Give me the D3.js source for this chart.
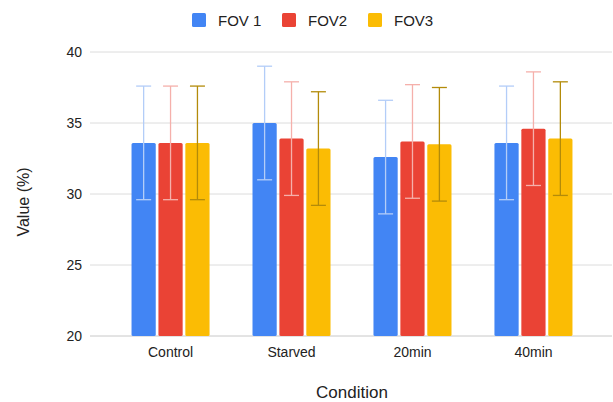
<!DOCTYPE html>
<html><head><meta charset="utf-8">
<script src="https://cdn.jsdelivr.net/npm/d3@7"></script>
<style>body{margin:0;background:#fff}svg{display:block;font-family:"Liberation Sans",Arial,sans-serif}</style>
</head><body><svg id="c" width="613" height="402"></svg>
<script>
const categories = ["Control","Starved","20min","40min"];
const seriesNames = ["FOV 1","FOV2","FOV3"];
const fov1 = [33.6, 35.0, 32.6, 33.6];
const fov2 = [33.6, 33.9, 33.7, 34.6];
const fov3 = [33.6, 33.2, 33.5, 33.9];
const err1 = [4, 4, 4, 4];
const err2 = [4, 4, 4, 4];
const err3 = [4, 4, 4, 4];
const yTicks = [20, 25, 30, 35, 40];

const colors = ["#4285F4","#EA4335","#FBBC04"];
const errColors = ["#b3cdf8","#f5b0ab","#b38b0a"];
const series = [fov1, fov2, fov3];
const errs = [err1, err2, err3];

const svg = d3.select("#c");
const y = d3.scaleLinear().domain([20, 40]).range([336, 52]);
const x0 = d3.scaleBand().domain(categories).range([110, 594]).paddingInner(0.355).paddingOuter(0.178);
const x1 = d3.scaleBand().domain(seriesNames).range([0, x0.bandwidth()]).paddingInner(0.1);

// gridlines
svg.append("g").selectAll("line").data(yTicks).join("line")
  .attr("x1", 90).attr("x2", 612)
  .attr("y1", d => y(d)).attr("y2", d => y(d))
  .attr("stroke", d => d === 20 ? "#c8c8c8" : "#dcdcdc").attr("stroke-width", 1);

// y axis labels
const yAxis = d3.axisLeft(y).tickValues(yTicks).tickSize(0).tickPadding(0);
const ya = svg.append("g").attr("transform", "translate(82,0)").call(yAxis);
ya.select(".domain").remove();
ya.selectAll("text").attr("font-size", 14).attr("fill", "#222").attr("font-family", "Liberation Sans, Arial, sans-serif");

// x axis labels
const xAxis = d3.axisBottom(x0).tickSize(0).tickPadding(0);
const xa = svg.append("g").attr("transform", "translate(0,347)").call(xAxis);
xa.select(".domain").remove();
xa.selectAll("text").attr("font-size", 14).attr("fill", "#222").attr("font-family", "Liberation Sans, Arial, sans-serif");

// bars
const groups = svg.append("g").selectAll("g").data(categories).join("g")
  .attr("transform", d => `translate(${x0(d)},0)`);
seriesNames.forEach((s, si) => {
  groups.append("rect")
    .attr("x", x1(s)).attr("width", x1.bandwidth())
    .attr("y", (d, i) => y(series[si][i]))
    .attr("height", (d, i) => y(20) - y(series[si][i]))
    .attr("rx", 1.5)
    .attr("fill", colors[si]);
});
// error bars
seriesNames.forEach((s, si) => {
  const cx = x1(s) + x1.bandwidth() / 2;
  groups.each(function(d, i) {
    const g = d3.select(this);
    const v = series[si][i], e = errs[si][i];
    const c = errColors[si];
    g.append("line").attr("x1", cx).attr("x2", cx).attr("y1", y(v + e)).attr("y2", y(v - e)).attr("stroke", c).attr("stroke-width", 1.3);
    [v + e, v - e].forEach(t => g.append("line").attr("x1", cx - 7.5).attr("x2", cx + 7.5).attr("y1", y(t)).attr("y2", y(t)).attr("stroke", c).attr("stroke-width", 1.3));
  });
});

// legend
const legX = [192, 282, 368];
const lg = svg.append("g");
seriesNames.forEach((s, i) => {
  lg.append("rect").attr("x", legX[i]).attr("y", 13).attr("width", 14).attr("height", 14).attr("rx", 1.5).attr("fill", colors[i]);
  lg.append("text").attr("x", legX[i] + 26).attr("y", 26).attr("font-size", 15).attr("fill", "#222").text(s);
});

// axis titles
svg.append("text").attr("transform", "translate(29,202) rotate(-90)").attr("text-anchor", "middle").attr("font-size", 16).attr("fill", "#222").text("Value (%)");
svg.append("text").attr("x", 352).attr("y", 398).attr("text-anchor", "middle").attr("font-size", 17).attr("fill", "#222").text("Condition");
</script></body></html>
